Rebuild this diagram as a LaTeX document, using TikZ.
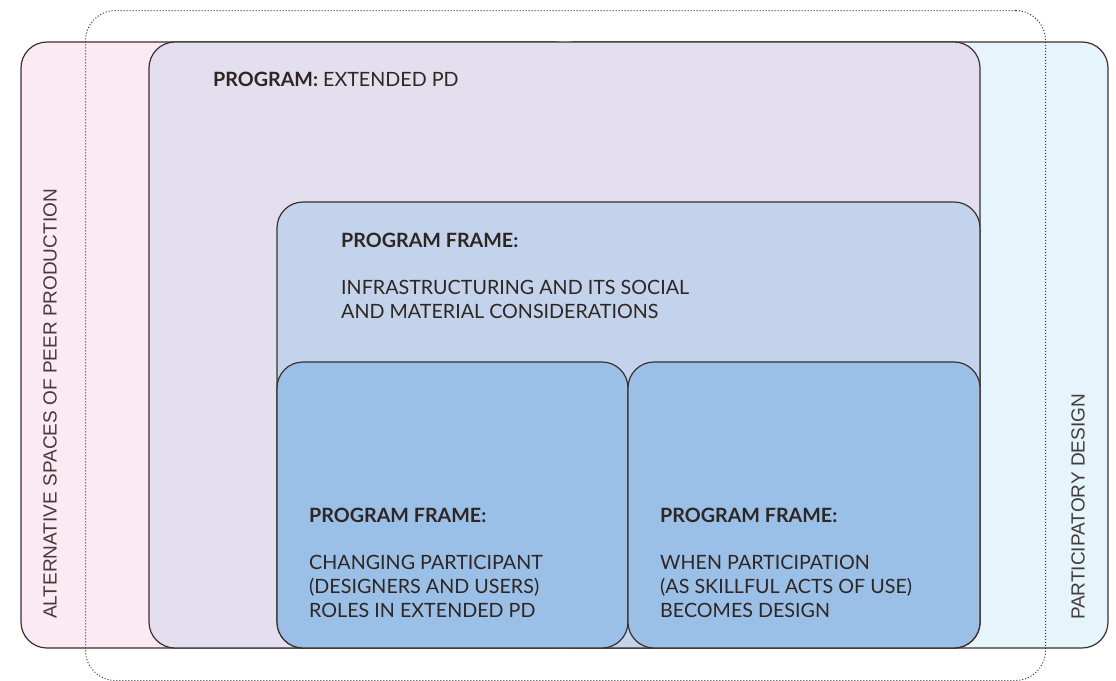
\documentclass[tikz,border=0pt]{standalone}
\usepackage{fontspec}
\setmainfont{Lato}
\newfontfamily\sidefont{Liberation Sans}
\definecolor{ink}{HTML}{2F2521}
\definecolor{edge}{HTML}{3A302C}
\definecolor{pinkfill}{HTML}{FBEAF3}
\definecolor{skyfill}{HTML}{E6F4FC}
\definecolor{lilacfill}{HTML}{E4DFEF}
\definecolor{framefill}{HTML}{C4D3EC}
\definecolor{innerfill}{HTML}{9BC0E8}
\begin{document}
\begin{tikzpicture}[x=1pt,y=-1pt,
  box/.style={draw=edge, line width=1.2pt, rounded corners=26pt, anchor=north west, inner sep=0pt, outer sep=0pt},
  dotbox/.style={draw=edge, line width=1pt, dotted, rounded corners=30pt, anchor=north west, inner sep=0pt},
  txt/.style={text=ink, anchor=base west, inner sep=0pt, font=\fontsize{19.7}{24}\selectfont},
  side/.style={text=ink!90, inner sep=0pt, rotate=90, font=\sidefont\fontsize{19}{22}\selectfont}]
\useasboundingbox (0,0) rectangle (1116,680);
\node[box, fill=skyfill, minimum width=560pt, minimum height=606pt] (sky) at (548,42) {};
\node[box, fill=pinkfill, minimum width=560pt, minimum height=606pt] (pink) at (21,42) {};
\node[dotbox, minimum width=960pt, minimum height=670pt] (dots) at (85,10) {};
\node[box, fill=lilacfill, minimum width=831pt, minimum height=606pt] (program) at (149,42) {};
\node[box, fill=framefill, minimum width=703pt, minimum height=446pt] (frame) at (277,202) {};
\node[box, fill=innerfill, minimum width=351pt, minimum height=286pt] (left) at (277,362) {};
\node[box, fill=innerfill, minimum width=352pt, minimum height=286pt] (right) at (628,362) {};
\node[txt] (t1) at (213,86) {\textbf{PROGRAM:} EXTENDED PD};
\node[txt] (t2h) at (341,247) {\textbf{PROGRAM FRAME:}};
\node[txt] (t2a) at (341,294) {INFRASTRUCTURING AND ITS SOCIAL};
\node[txt] (t2b) at (341,318) {AND MATERIAL CONSIDERATIONS};
\node[txt] (t3h) at (309,522) {\textbf{PROGRAM FRAME:}};
\node[txt] (t3a) at (309,569) {CHANGING PARTICIPANT};
\node[txt] (t3b) at (309,593) {(DESIGNERS AND USERS)};
\node[txt] (t3c) at (309,617) {ROLES IN EXTENDED PD};
\node[txt] (t4h) at (660,522) {\textbf{PROGRAM FRAME:}};
\node[txt] (t4a) at (660,569) {WHEN PARTICIPATION};
\node[txt] (t4b) at (660,593) {(AS SKILLFUL ACTS OF USE)};
\node[txt] (t4c) at (660,617) {BECOMES DESIGN};
\node[side, anchor=south] (s1) at (57,404) {ALTERNATIVE SPACES OF PEER PRODUCTION};
\node[side, anchor=south] (s2) at (1085,507) {PARTICIPATORY DESIGN};
\end{tikzpicture}
\end{document}
